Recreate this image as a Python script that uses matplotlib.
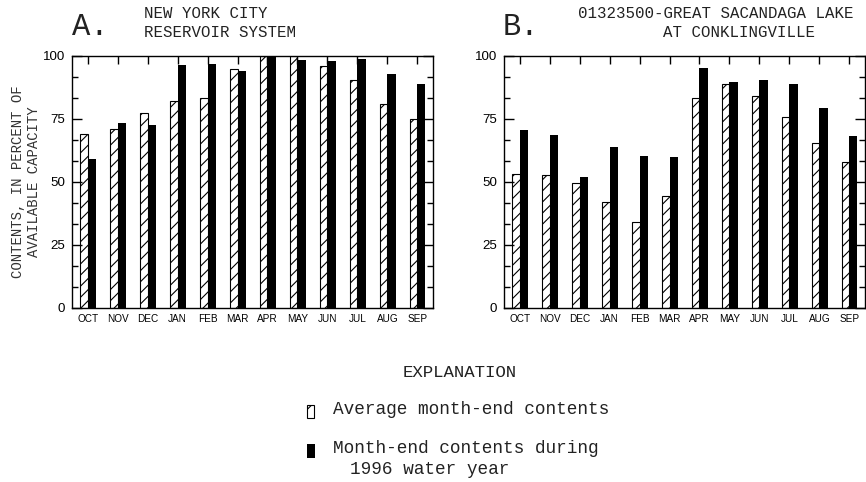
import matplotlib
matplotlib.use("Agg")
import matplotlib.pyplot as plt
from matplotlib.patches import Rectangle
from matplotlib.ticker import MultipleLocator, FixedLocator

months = ['OCT', 'NOV', 'DEC', 'JAN', 'FEB', 'MAR', 'APR', 'MAY', 'JUN', 'JUL', 'AUG', 'SEP']
nyc_avg = [69, 71, 77.5, 82, 83.5, 95, 100, 100, 96, 90.5, 81, 75]
nyc_1996 = [59, 73.5, 72.5, 96.5, 97, 94, 100, 98.5, 98, 99, 93, 89]
gsl_avg = [53, 52.8, 49.5, 42, 34, 44.5, 83.5, 88.8, 84, 75.6, 65.4, 58]
gsl_1996 = [70.8, 68.5, 52, 64, 60.4, 60.1, 95.2, 89.7, 90.5, 89, 79.2, 68.3]
y_major = [0, 25, 50, 75, 100]

W, H = 866, 482
MONO = 'Liberation Mono'
SANS = 'Liberation Sans'
plt.rcParams['hatch.linewidth'] = 0.8

fig = plt.figure(figsize=(W / 100, H / 100), dpi=100)


def fx(x):
    return x / W


def fy(y):
    return 1 - y / H


def make_ax(left_px, avg, cur):
    ax = fig.add_axes([fx(left_px), fy(308), 0.4165, (308 - 56) / H])
    x = list(range(len(months)))
    ax.bar(x, avg, width=-0.245, align='edge', facecolor='white',
           edgecolor='black', linewidth=0.8, hatch='///')
    ax.bar(x, cur, width=0.27, align='edge', color='black', linewidth=0)
    ax.set_xlim(-0.52, 11.51)
    ax.set_ylim(0, 100)
    ax.set_xticks(x)
    ax.set_xticklabels(months, fontsize=7.2, family=SANS)
    ax.tick_params(axis='x', bottom=False, top=True, direction='in',
                   length=6, width=1, labelbottom=True, pad=4)
    ax.yaxis.set_major_locator(FixedLocator(y_major))
    ax.yaxis.set_minor_locator(MultipleLocator(100 / 12))
    ax.set_yticklabels([str(v) for v in y_major], fontsize=9.6, family=SANS)
    ax.tick_params(axis='y', which='major', direction='in', length=7,
                   width=1, left=True, right=True, pad=5)
    ax.tick_params(axis='y', which='minor', direction='in', length=4,
                   width=1, left=True, right=True)
    for s in ax.spines.values():
        s.set_linewidth(1)
    return ax


axA = make_ax(72, nyc_avg, nyc_1996)
axB = make_ax(504, gsl_avg, gsl_1996)

# panel letters and titles
fig.text(fx(72), fy(35), 'A.', family=MONO, fontsize=22, va='baseline', ha='left', color='#222222')
fig.text(fx(144), fy(18), 'NEW YORK CITY', family=MONO, fontsize=11.3, va='baseline', ha='left', color='#222222')
fig.text(fx(144), fy(37), 'RESERVOIR SYSTEM', family=MONO, fontsize=11.3, va='baseline', ha='left', color='#222222')

fig.text(fx(503), fy(35), 'B.', family=MONO, fontsize=22, va='baseline', ha='left', color='#222222')
fig.text(fx(578), fy(18), '01323500-GREAT SACANDAGA LAKE', family=MONO, fontsize=11.3, va='baseline', ha='left', color='#222222')
fig.text(fx(663), fy(37), 'AT CONKLINGVILLE', family=MONO, fontsize=11.3, va='baseline', ha='left', color='#222222')

# y label
fig.text(fx(18), fy(182), 'CONTENTS, IN PERCENT OF', family=MONO, fontsize=10,
         rotation=90, va='center', ha='center', color='#333333')
fig.text(fx(34), fy(182), 'AVAILABLE CAPACITY', family=MONO, fontsize=10,
         rotation=90, va='center', ha='center', color='#333333')

# explanation
fig.text(fx(460), fy(377), 'EXPLANATION', family=MONO, fontsize=12.5, va='baseline', ha='center', color='#222222')
fig.patches.append(Rectangle((fx(307), fy(418)), 7 / W, 13 / H, transform=fig.transFigure,
                             facecolor='white', edgecolor='black', linewidth=0.8, hatch='//'))
fig.text(fx(333), fy(414), 'Average month-end contents', family=MONO, fontsize=12.8,
         va='baseline', ha='left', color='#222222')
fig.patches.append(Rectangle((fx(307), fy(458)), 8 / W, 14 / H, transform=fig.transFigure,
                             facecolor='black', edgecolor='black', linewidth=0))
fig.text(fx(333), fy(452.7), 'Month-end contents during', family=MONO, fontsize=12.8,
         va='baseline', ha='left', color='#222222')
fig.text(fx(350), fy(474), '1996 water year', family=MONO, fontsize=12.8,
         va='baseline', ha='left', color='#222222')

fig.savefig('out.png', dpi=100)
